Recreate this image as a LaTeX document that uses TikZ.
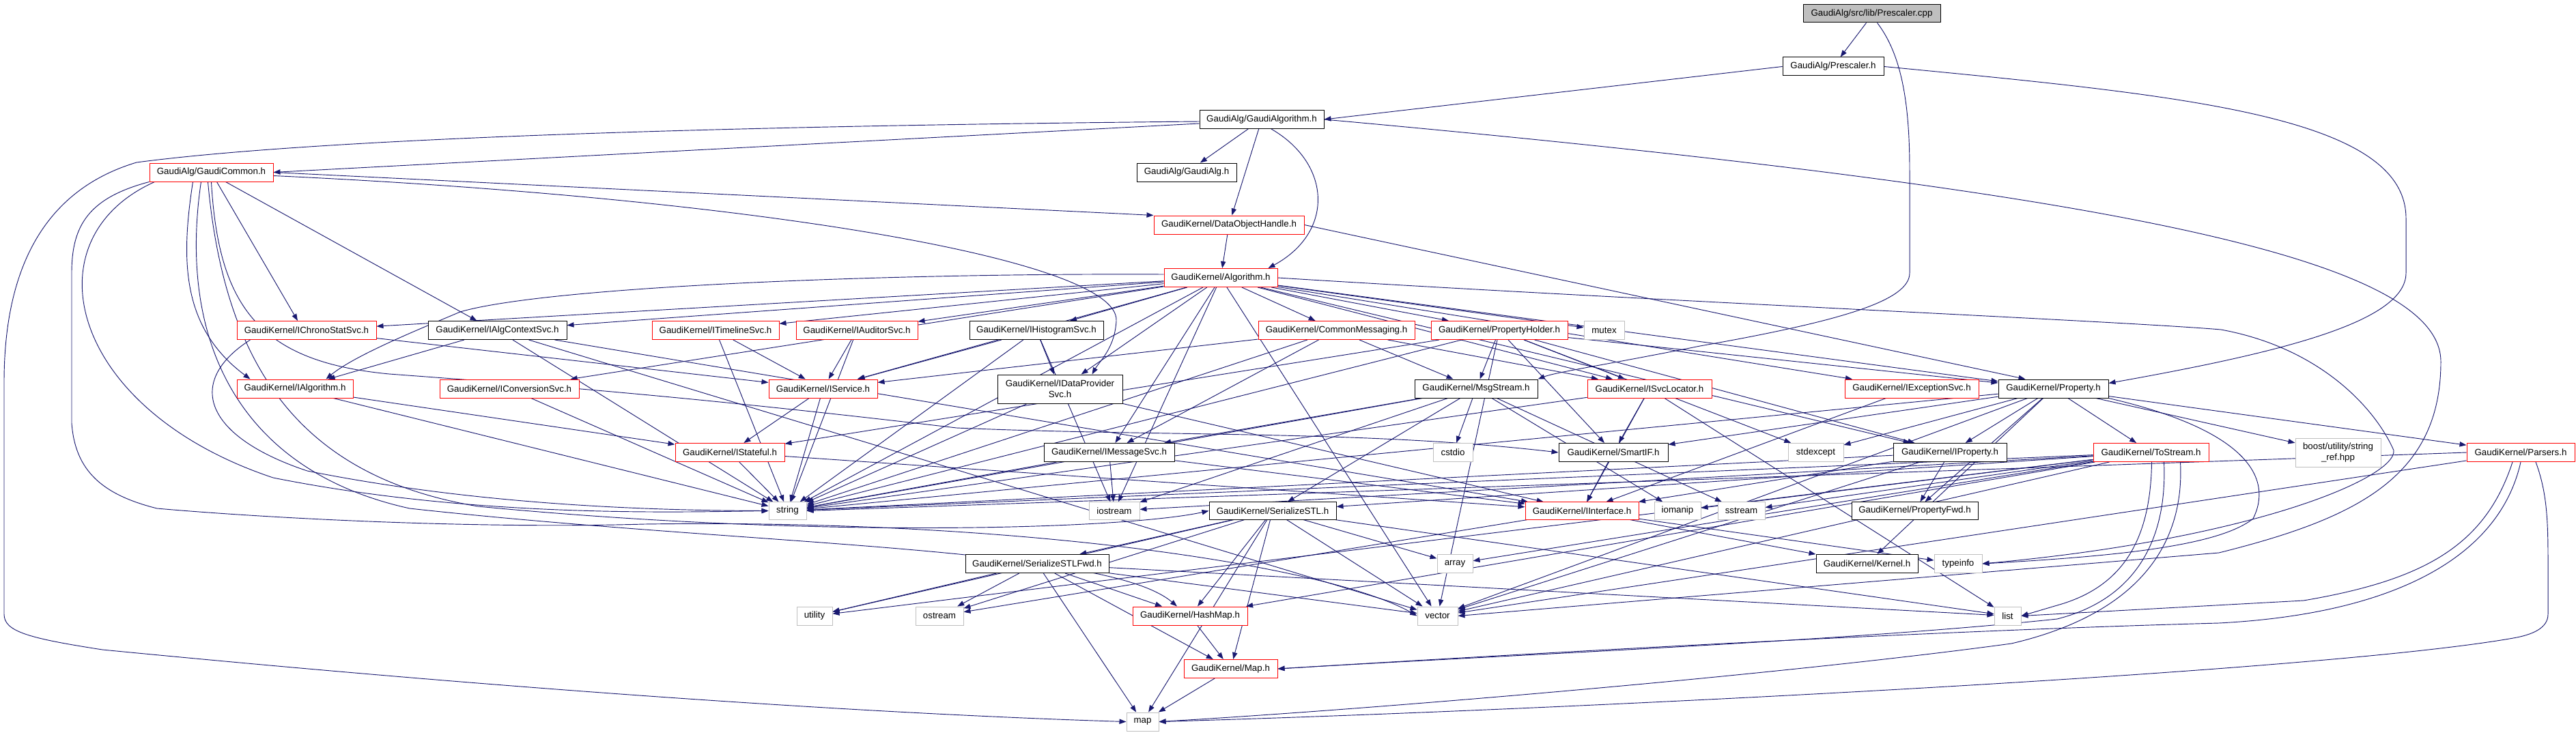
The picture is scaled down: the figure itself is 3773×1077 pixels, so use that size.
\documentclass[tikz,border=0pt]{standalone}
\usepackage{fontspec}
\setmainfont{Liberation Sans}
\usetikzlibrary{arrows.meta,calc,backgrounds}

\definecolor{edgeblue}{RGB}{25,25,112}
\definecolor{sysgray}{RGB}{191,191,191}

\tikzset{
  hdr/.style={draw=black, fill=white, line width=0.75pt, inner sep=0pt,
              minimum height=20.25pt, font=\fontsize{10}{12}\selectfont},
  redhdr/.style={hdr, draw=red},
  syshdr/.style={hdr, draw=sysgray},
  srcfile/.style={hdr, fill=sysgray},
  dep/.style={draw=edgeblue, line width=0.7pt, -{Triangle[length=7.5pt,width=5.5pt]}},
}

\begin{document}
\begin{tikzpicture}[x=0.75pt,y=-0.75pt]
\useasboundingbox (0,0) rectangle (3773,1077);

% TOP
\node (cpp) [srcfile, minimum height=19.5pt, minimum width=150.75pt] at (2741.5,20) {GaudiAlg/src/lib/Prescaler.cpp};
\node (prescalerh) [hdr, minimum width=111pt] at (2685,97.5) {GaudiAlg/Prescaler.h};
\node (gaudialgorithm) [hdr, minimum width=136.5pt] at (1848,175) {GaudiAlg/GaudiAlgorithm.h};
\node (gaudicommon) [redhdr, minimum width=135.75pt] at (309.5,252.5) {GaudiAlg/GaudiCommon.h};
\node (gaudialg) [hdr, minimum width=109.5pt] at (1738,252.5) {GaudiAlg/GaudiAlg.h};
\node (dataobjecthandle) [redhdr, minimum width=165pt] at (1800,329.5) {GaudiKernel/DataObjectHandle.h};
\node (algorithm) [redhdr, minimum width=124.5pt] at (1788,407) {GaudiKernel/Algorithm.h};

% ROW OF SERVICES
\node (ichronostatsvc) [redhdr, minimum width=153pt] at (449,484) {GaudiKernel/IChronoStatSvc.h};
\node (ialgcontextsvc) [hdr, minimum width=152.25pt] at (728.5,484) {GaudiKernel/IAlgContextSvc.h};
\node (itimelinesvc) [redhdr, minimum width=139.5pt] at (1048,484) {GaudiKernel/ITimelineSvc.h};
\node (iauditorsvc) [redhdr, minimum width=133.5pt] at (1255,484) {GaudiKernel/IAuditorSvc.h};
\node (ihistogramsvc) [hdr, minimum width=147pt] at (1518,484) {GaudiKernel/IHistogramSvc.h};
\node (commonmessaging) [redhdr, minimum width=171.75pt] at (1957.5,484) {GaudiKernel/CommonMessaging.h};
\node (propertyholder) [redhdr, minimum width=150pt] at (2196,484) {GaudiKernel/PropertyHolder.h};
\node (mutex) [syshdr, minimum width=44.25pt] at (2349.5,484) {mutex};

% MIDDLE
\node (ialgorithm) [redhdr, minimum width=127.5pt] at (432,569.5) {GaudiKernel/IAlgorithm.h};
\node (iconversionsvc) [redhdr, minimum width=153pt] at (746,569.5) {GaudiKernel/IConversionSvc.h};
\node (iservice) [redhdr, minimum width=119.25pt] at (1205.5,569.5) {GaudiKernel/IService.h};
\node (idataprovidersvc) [hdr, minimum width=137.25pt, minimum height=31.5pt, align=center] at (1552.5,570) {GaudiKernel/IDataProvider\\Svc.h};
\node (msgstream) [hdr, minimum width=135pt] at (2162,569.5) {GaudiKernel/MsgStream.h};
\node (isvclocator) [redhdr, minimum width=136.5pt] at (2416,569.5) {GaudiKernel/ISvcLocator.h};
\node (iexceptionsvc) [redhdr, minimum width=147pt] at (2800,569.5) {GaudiKernel/IExceptionSvc.h};
\node (property) [hdr, minimum width=120.75pt] at (3007.5,569.5) {GaudiKernel/Property.h};

\node (istateful) [redhdr, minimum width=120pt] at (1069,663) {GaudiKernel/IStateful.h};
\node (imessagesvc) [hdr, minimum width=143.25pt] at (1624.5,663) {GaudiKernel/IMessageSvc.h};
\node (cstdio) [syshdr, minimum width=43.5pt] at (2128,663) {cstdio};
\node (smartif) [hdr, minimum width=120pt] at (2363,663) {GaudiKernel/SmartIF.h};
\node (stdexcept) [syshdr, minimum width=60.75pt] at (2659.5,663) {stdexcept};
\node (iproperty) [hdr, minimum width=124.5pt] at (2856,663) {GaudiKernel/IProperty.h};
\node (tostream) [redhdr, minimum width=126.75pt] at (3150.5,663) {GaudiKernel/ToStream.h};
\node (stringref) [syshdr, minimum width=93.75pt, minimum height=31.5pt, align=center] at (3424.5,663) {boost/utility/string\\\_ref.hpp};
\node (parsers) [redhdr, minimum width=118.5pt] at (3692,663) {GaudiKernel/Parsers.h};

% BOTTOM
\node (string) [syshdr, minimum height=19pt, minimum width=41.25pt] at (1153.5,748.5) {string};
\node (iostream) [syshdr, minimum height=19pt, minimum width=55.5pt] at (1632,748.5) {iostream};
\node (serializestl) [hdr, minimum height=19pt, minimum width=139.5pt] at (1864,748.5) {GaudiKernel/SerializeSTL.h};
\node (iinterface) [redhdr, minimum height=19pt, minimum width=124.5pt] at (2317,748.5) {GaudiKernel/IInterface.h};
\node (iomanip) [syshdr, minimum height=19pt, minimum width=51pt] at (2457,748.5) {iomanip};
\node (sstream) [syshdr, minimum height=19pt, minimum width=51.75pt] at (2550.5,748.5) {sstream};
\node (propertyfwd) [hdr, minimum height=19pt, minimum width=138.75pt] at (2804.5,748.5) {GaudiKernel/PropertyFwd.h};

\node (serializestlfwd) [hdr, minimum width=157.5pt] at (1519,826) {GaudiKernel/SerializeSTLFwd.h};
\node (array) [syshdr, minimum width=39pt] at (2131,826) {array};
\node (kernel) [hdr, minimum width=111.75pt] at (2734.5,826) {GaudiKernel/Kernel.h};
\node (typeinfo) [syshdr, minimum width=52.5pt] at (2868,826) {typeinfo};

\node (utility) [syshdr, minimum width=39pt] at (1193,902.5) {utility};
\node (ostream) [syshdr, minimum width=52.5pt] at (1376,902.5) {ostream};
\node (hashmap) [redhdr, minimum width=126pt] at (1743,902.5) {GaudiKernel/HashMap.h};
\node (vector) [syshdr, minimum width=44.25pt] at (2105.5,902.5) {vector};
\node (list) [syshdr, minimum width=29.25pt] at (2940.5,902.5) {list};

\node (maph) [redhdr, minimum width=102.75pt] at (1802.5,980) {GaudiKernel/Map.h};
\node (map) [syshdr, minimum width=35.25pt] at (1673.5,1057.5) {map};

\begin{scope}[on background layer]
\fill[white] (0,0) rectangle (3773,1077);

% the source file
\draw[dep] ($(cpp.south)+(-8,0)$) -- (prescalerh);
\draw[dep] ($(cpp.south)+(8,0)$) .. controls (2785,80) and (2797,150) .. (2797,250) -- (2797,400)
           .. controls (2797,440) and (2700,470) .. (2490,507) .. controls (2350,535) and (2280,545) .. (msgstream.north east);

% Prescaler.h
\draw[dep] (prescalerh.west) -- (gaudialgorithm.east);
\draw[dep] (prescalerh.east) .. controls (3200,140) and (3524,170) .. (3524,320) -- (3524,400)
           .. controls (3524,470) and (3350,515) .. ($(property.north east)+(0,6)$);

% GaudiAlgorithm.h
\draw[dep] ($(gaudialgorithm.west)+(0,6)$) -- (gaudicommon.east);
\draw[dep] (gaudialgorithm) -- (gaudialg);
\draw[dep] (gaudialgorithm) -- (dataobjecthandle);
\draw[dep] ($(gaudialgorithm.south)+(14,0)$) .. controls (1950,240) and (1955,340) .. ($(algorithm.north east)+(-14,0)$);
\draw[dep] ($(gaudialgorithm.west)+(0,3)$) .. controls (1000,185) and (450,205) .. (200,238)
           .. controls (60,280) and (6,400) .. (6,560) -- (6,900) .. controls (6,925) and (40,935) .. (150,952)
           .. controls (900,1025) and (1400,1050) .. (map.west);
\draw[dep] (gaudialgorithm.east) .. controls (3100,280) and (3575,380) .. (3575,530)
           .. controls (3575,700) and (3450,760) .. (3250,810) -- (vector.east);

% GaudiCommon.h
\draw[dep] (gaudicommon.east) -- (dataobjecthandle.north west);
\draw[dep] ($(gaudicommon.east)+(0,5)$) .. controls (1100,290) and (1640,380) .. (1635,470)
           .. controls (1633,510) and (1610,530) .. ($(idataprovidersvc.north)+(47,0)$);
\draw[dep] ($(gaudicommon.south)+(8,0)$) -- ($(ichronostatsvc.north)+(-13,0)$);
\draw[dep] ($(gaudicommon.south)+(21,0)$) -- ($(ialgcontextsvc.north)+(-30,0)$);
\draw[dep] ($(gaudicommon.south)+(-27,0)$) .. controls (265,380) and (265,480) .. ($(ialgorithm.north west)+(20,0)$);
\draw[dep] ($(gaudicommon.south west)+(8,0)$) .. controls (40,350) and (100,600) .. (400,700)
           .. controls (700,760) and (1000,750) .. (string.west);
\draw[dep] (gaudicommon.south west) .. controls (130,290) and (105,330) .. (105,400) -- (105,620)
           .. controls (110,690) and (150,725) .. (230,745) .. controls (400,760) and (700,775) .. (944,768)
           .. controls (1500,760) and (1950,830) .. (vector.west);
\draw[dep] ($(gaudicommon.south)+(-15,0)$) .. controls (260,500) and (350,690) .. (600,745)
           .. controls (1100,800) and (1620,800) .. ($(hashmap.north)+(-19,0)$);
\draw[dep] ($(gaudicommon.south)+(-5,0)$) .. controls (330,550) and (450,700) .. (700,742)
           .. controls (1200,790) and (1650,775) .. (serializestl.west);
\draw[dep] (gaudicommon.south) .. controls (320,450) and (380,530) .. (570,548)
           .. controls (800,565) and (1000,580) .. (1401,627) .. controls (1700,640) and (2000,630) .. (smartif.west);

% DataObjectHandle.h
\draw[dep] (dataobjecthandle) -- (algorithm);
\draw[dep] (dataobjecthandle.east) -- ($(property.north west)+(40,0)$);

% Algorithm.h, left side
\draw[dep] (algorithm) -- (ichronostatsvc);
\draw[dep] (algorithm) -- (ialgcontextsvc);
\draw[dep] ($(algorithm.west)+(0,-5)$) .. controls (1300,400) and (800,420) .. (674,457)
           .. controls (620,480) and (520,520) .. ($(ialgorithm.north east)+(-40,0)$);
\draw[dep] (algorithm) -- (iconversionsvc);
\draw[dep] (algorithm) -- (itimelinesvc);
\draw[dep] (algorithm) -- (iauditorsvc);
\draw[dep] (algorithm) -- (iservice);
\draw[dep] (algorithm) -- (ihistogramsvc);
\draw[dep] (algorithm) -- (idataprovidersvc);
\draw[dep] (algorithm) -- (imessagesvc);
\draw[dep] (algorithm) -- (string);
\draw[dep] (algorithm) -- (iostream);
\draw[dep] (algorithm) -- (vector);
% Algorithm.h, right side
\draw[dep] (algorithm) -- (commonmessaging);
\draw[dep] (algorithm) -- (propertyholder);
\draw[dep] (algorithm) -- (mutex);
\draw[dep] (algorithm) -- (isvclocator);
\draw[dep] (algorithm) -- (iexceptionsvc);
\draw[dep] (algorithm) -- (property);
\draw[dep] (algorithm) -- (iproperty);
\draw[dep] (algorithm.east) .. controls (2400,440) and (3100,470) .. (3253,483)
           .. controls (3400,510) and (3480,600) .. (3506,660) .. controls (3510,700) and (3300,790) .. (typeinfo.east);

% services row
\draw[dep] (ichronostatsvc) -- (iservice);
\draw[dep] ($(ichronostatsvc.south west)+(20,0)$) .. controls (270,560) and (300,640) .. (450,690)
           .. controls (700,740) and (950,748) .. (string.west);
\draw[dep] (ialgcontextsvc) -- (ialgorithm);
\draw[dep] (ialgcontextsvc) -- (string);
\draw[dep] (ialgcontextsvc) -- (vector);
\draw[dep] (ialgcontextsvc) -- (iinterface);
\draw[dep] (itimelinesvc) -- (iservice);
\draw[dep] (itimelinesvc) -- (string);
\draw[dep] (iauditorsvc) -- (iservice);
\draw[dep] (iauditorsvc) -- (string);
\draw[dep] (ihistogramsvc) -- (iservice);
\draw[dep] (ihistogramsvc) -- (idataprovidersvc);
\draw[dep] (ihistogramsvc) -- (string);
\draw[dep] (ihistogramsvc) -- (iostream);
\draw[dep] (commonmessaging) -- (iservice);
\draw[dep] (commonmessaging) -- (msgstream);
\draw[dep] (commonmessaging) -- (isvclocator);
\draw[dep] (commonmessaging) -- (imessagesvc);
\draw[dep] (commonmessaging) -- (string);
\draw[dep] (propertyholder) -- (msgstream);
\draw[dep] (propertyholder) -- (isvclocator);
\draw[dep] (propertyholder) -- (iproperty);
\draw[dep] (propertyholder) -- (property);
\draw[dep] (propertyholder) -- (smartif);
\draw[dep] (propertyholder) -- (stdexcept);
\draw[dep] (propertyholder) -- (string);
\draw[dep] (propertyholder) -- (vector);
\draw[dep] (propertyholder) -- (istateful);

% middle row
\draw[dep] (ialgorithm) -- (istateful);
\draw[dep] (ialgorithm) -- (string);
\draw[dep] (iconversionsvc) -- (string);
\draw[dep] (iservice) -- (istateful);
\draw[dep] (iservice) -- (string);
\draw[dep] (idataprovidersvc) -- (string);
\draw[dep] (idataprovidersvc) -- (iinterface);
\draw[dep] (msgstream) -- (imessagesvc);
\draw[dep] (msgstream) -- (string);
\draw[dep] (msgstream) -- (serializestl);
\draw[dep] (msgstream) -- (cstdio);
\draw[dep] (msgstream) -- (iostream);
\draw[dep] (msgstream) -- (iomanip);
\draw[dep] (msgstream) -- (sstream);
\draw[dep] (isvclocator) -- (smartif);
\draw[dep] (isvclocator) -- (iinterface);
\draw[dep] (isvclocator) -- (string);
\draw[dep] (isvclocator) -- (list);
\draw[dep] (iexceptionsvc) -- (iinterface);
\draw[dep] (property) -- (iproperty);
\draw[dep] (property) -- (tostream);
\draw[dep] (property) -- (stringref);
\draw[dep] (property) -- (parsers);
\draw[dep] (property) -- (smartif);
\draw[dep] (property) -- (stdexcept);
\draw[dep] (property) -- (string);
\draw[dep] (property.south east) .. controls (3290,630) and (3330,700) .. (3300,760)
           .. controls (3250,800) and (3100,815) .. (typeinfo.east);
\draw[dep] (property) -- (kernel);
\draw[dep] (property) -- (propertyfwd);
\draw[dep] (property) -- (vector);

% lower row
\draw[dep] (istateful) -- (iinterface);
\draw[dep] (istateful) -- (string);
\draw[dep] (imessagesvc) -- (iinterface);
\draw[dep] (imessagesvc) -- (string);
\draw[dep] (imessagesvc) -- (iostream);
\draw[dep] (smartif) -- (iinterface);
\draw[dep] (iproperty) -- (propertyfwd);
\draw[dep] (iproperty) -- (iinterface);
\draw[dep] (iproperty) -- (string);
\draw[dep] (iproperty) -- (vector);
\draw[dep] (tostream) -- (string);
\draw[dep] (tostream) -- (iostream);
\draw[dep] (tostream) -- (iomanip);
\draw[dep] (tostream) -- (sstream);
\draw[dep] (tostream) -- (vector);
\draw[dep] ($(tostream.south)+(1,0)$) .. controls (3150,790) and (3110,860) .. (3013,887) -- (list.east);
\draw[dep] ($(tostream.south)+(43,0)$) .. controls (3200,800) and (3130,900) .. (2946,943)
           .. controls (2600,990) and (2000,1040) .. (map.east);
\draw[dep] (tostream) -- (array);
\draw[dep] (tostream) -- (utility);
\draw[dep] (tostream) -- (hashmap);
\draw[dep] ($(tostream.south)+(19,0)$) .. controls (3175,800) and (3120,880) .. (3013,907)
           .. controls (2700,940) and (2200,960) .. (maph.east);
\draw[dep] (tostream) -- (serializestl);
\draw[dep] (parsers.west) -- (string.east);
\draw[dep] (parsers) -- (vector);
\draw[dep] ($(parsers.south)+(-12,0)$) .. controls (3640,800) and (3550,850) .. (3374,880) -- (list.east);
\draw[dep] (parsers.south) .. controls (3660,820) and (3500,900) .. (3250,913)
           .. controls (2800,925) and (2200,960) .. (maph.east);
\draw[dep] ($(parsers.south)+(22,0)$) .. controls (3730,720) and (3732,760) .. (3732,820) -- (3732,900)
           .. controls (3732,920) and (3710,930) .. (3681,935) .. controls (3400,985) and (2300,1040) .. (map.east);

% bottom
\draw[dep] (serializestl) -- (serializestlfwd);
\draw[dep] (serializestl) -- (hashmap);
\draw[dep] (serializestl) -- (maph);
\draw[dep] (serializestl) -- (array);
\draw[dep] (serializestl) -- (utility);
\draw[dep] (serializestl) -- (vector);
\draw[dep] (serializestl) -- (list);
\draw[dep] (serializestl) -- (map);
\draw[dep] (serializestl) -- (ostream);
\draw[dep] (iinterface) -- (kernel);
\draw[dep] (iinterface) -- (typeinfo);
\draw[dep] (iinterface) -- (ostream);
\draw[dep] (serializestlfwd) -- (utility);
\draw[dep] (serializestlfwd) -- (ostream);
\draw[dep] (serializestlfwd) -- (hashmap);
\draw[dep] (serializestlfwd) -- (maph);
\draw[dep] (serializestlfwd) -- (map);
\draw[dep] (serializestlfwd) -- (vector);
\draw[dep] (serializestlfwd) -- (list);
\draw[dep] (hashmap) -- (maph);
\draw[dep] (maph) -- (map);
\end{scope}

\end{tikzpicture}
\end{document}
